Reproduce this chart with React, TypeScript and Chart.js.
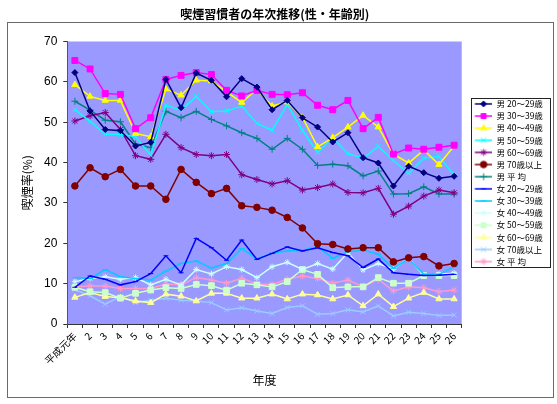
import React, { useEffect, useRef } from 'react';
import { Chart, registerables } from 'chart.js';

Chart.register(...registerables);

const categories = ['平成元年', '2', '3', '4', '5', '6', '7', '8', '9', '10', '11', '12', '13', '14', '15', '16', '17', '18', '19', '20', '21', '22', '23', '24', '25', '26'];

const seriesNames = ['男 20～29歳', '男 30～39歳', '男 40～49歳', '男 50～59歳', '男 60～69歳', '男 70歳以上', '男 平 均', '女 20～29歳', '女 30～39歳', '女 40～49歳', '女 50～59歳', '女 60～69歳', '女 70歳以上', '女 平 均'];

const male20 = [62.3, 52.8, 48.2, 47.9, 44.1, 45.0, 60.6, 53.6, 62.2, 60.4, 56.3, 60.8, 58.7, 53.1, 55.4, 51.1, 48.8, 45.1, 47.4, 41.2, 39.9, 34.2, 39.1, 37.5, 36.1, 36.6];
const male30 = [65.3, 63.2, 57.1, 56.9, 48.4, 51.1, 60.6, 61.6, 62.3, 61.8, 57.9, 56.5, 57.9, 56.9, 56.8, 57.3, 54.2, 53.1, 55.4, 48.4, 51.2, 42.1, 43.6, 43.3, 43.8, 44.3];
const male40 = [59.3, 56.4, 55.4, 55.4, 47.2, 46.4, 58.2, 56.7, 60.4, 60.2, 57.5, 54.9, 58.1, 54.0, 55.0, 51.2, 43.9, 46.2, 48.8, 51.7, 48.8, 42.1, 39.9, 43.1, 39.5, 44.1];
const male50 = [53.1, 50.2, 47.0, 47.0, 46.4, 41.8, 54.2, 53.0, 56.4, 52.6, 52.8, 54.0, 49.7, 48.0, 54.4, 48.0, 42.5, 46.2, 42.2, 41.1, 44.0, 40.5, 37.3, 41.1, 41.5, 36.9];
const male60 = [50.3, 51.6, 52.4, 48.2, 41.7, 40.8, 47.0, 43.7, 42.0, 41.7, 42.0, 37.0, 35.8, 34.7, 35.5, 33.2, 33.8, 34.7, 32.6, 32.5, 33.6, 27.2, 29.2, 31.7, 33.2, 32.5];
const male70 = [34.2, 38.7, 36.5, 38.3, 34.2, 34.2, 30.9, 38.3, 35.1, 32.3, 33.6, 29.3, 28.9, 28.2, 26.4, 23.8, 19.9, 19.7, 18.6, 18.9, 18.9, 15.4, 16.4, 16.7, 14.4, 15.0];
const maleAvg = [55.2, 53.0, 50.5, 50.1, 44.6, 43.7, 52.7, 51.1, 52.7, 50.7, 49.1, 47.4, 46.0, 43.3, 46.0, 43.3, 39.3, 39.6, 39.2, 36.7, 37.9, 32.2, 32.3, 34.0, 32.2, 32.2];
const female20 = [9.1, 11.9, 11.1, 9.7, 10.5, 12.5, 16.9, 12.7, 21.2, 18.9, 15.8, 20.8, 16.0, 17.5, 19.1, 18.1, 18.9, 17.7, 16.9, 14.0, 16.1, 12.7, 12.3, 12.0, 12.1, 12.3];
const female30 = [11.5, 11.3, 13.5, 11.7, 11.3, 10.9, 13.1, 15.0, 15.6, 13.9, 15.0, 18.7, 16.2, 17.5, 18.1, 18.3, 19.1, 16.3, 17.9, 18.3, 17.3, 13.8, 16.1, 12.3, 12.3, 14.2];
const female40 = [10.5, 11.3, 11.7, 11.1, 11.5, 9.7, 11.1, 9.7, 13.5, 12.4, 14.2, 13.5, 11.5, 14.2, 15.3, 13.5, 15.0, 13.6, 17.7, 13.4, 15.0, 13.6, 16.3, 12.0, 12.3, 12.6];
const female50 = [9.1, 8.0, 7.8, 6.4, 7.6, 8.4, 9.0, 8.8, 9.8, 9.5, 8.4, 10.1, 9.7, 9.2, 10.5, 13.5, 12.3, 9.0, 9.2, 9.2, 11.5, 10.1, 10.1, 12.0, 12.0, 12.0];
const female60 = [6.6, 7.8, 6.8, 6.5, 5.7, 5.3, 7.4, 6.9, 5.7, 7.6, 7.6, 6.4, 6.4, 7.4, 6.2, 7.4, 7.2, 6.2, 7.2, 4.5, 7.4, 4.3, 6.4, 7.8, 6.2, 6.2];
const female70 = [8.5, 7.0, 4.9, 6.8, 5.3, 5.9, 6.4, 5.9, 5.7, 5.3, 3.5, 4.0, 3.2, 2.6, 4.1, 4.5, 2.4, 2.6, 3.5, 3.0, 4.5, 2.0, 2.9, 2.6, 2.1, 2.2];
const femaleAvg = [9.2, 9.4, 9.4, 8.8, 8.8, 8.8, 9.9, 9.7, 11.5, 10.9, 10.1, 11.3, 9.9, 9.8, 11.1, 11.9, 11.3, 10.1, 10.9, 9.2, 11.1, 8.2, 9.2, 9.0, 8.0, 8.4];

const seriesValues = [male20, male30, male40, male50, male60, male70, maleAvg, female20, female30, female40, female50, female60, female70, femaleAvg];

const seriesColors = ['#000080', '#FF00FF', '#FFFF00', '#00FFFF', '#800080', '#800000', '#008080', '#0000FF', '#00CCFF', '#CCFFFF', '#CCFFCC', '#FFFF99', '#99CCFF', '#FF99CC'];
const seriesMarkers = ['rectRot', 'rect', 'triangle', 'crossRot', 'star', 'circle', 'cross', 'line', 'line', 'star', 'rect', 'triangle', 'crossRot', 'star'];
const seriesMarkerSizes = [3, 4.2, 3.6, 3.5, 3.5, 3.3, 3.5, 2.5, 3, 3, 4, 3.6, 3.5, 3.5];

const yTicks = [0, 10, 20, 30, 40, 50, 60, 70];

const FONT_JP = "'Noto Sans CJK JP', 'Noto Sans', sans-serif";

function drawMarker(ctx: CanvasRenderingContext2D, style: string, x: number, y: number, r: number, color: string) {
  ctx.fillStyle = color;
  ctx.strokeStyle = color;
  ctx.lineWidth = 1;
  ctx.beginPath();
  const d = Math.SQRT1_2 * r;
  switch (style) {
    case 'circle':
      ctx.arc(x, y, r, 0, Math.PI * 2);
      ctx.fill();
      ctx.stroke();
      break;
    case 'rect':
      ctx.rect(x - d, y - d, 2 * d, 2 * d);
      ctx.fill();
      ctx.stroke();
      break;
    case 'rectRot':
      ctx.moveTo(x - r, y);
      ctx.lineTo(x, y - r);
      ctx.lineTo(x + r, y);
      ctx.lineTo(x, y + r);
      ctx.closePath();
      ctx.fill();
      ctx.stroke();
      break;
    case 'triangle': {
      let a = 0;
      ctx.moveTo(x + Math.sin(a) * r, y - Math.cos(a) * r);
      a += (2 * Math.PI) / 3;
      ctx.lineTo(x + Math.sin(a) * r, y - Math.cos(a) * r);
      a += (2 * Math.PI) / 3;
      ctx.lineTo(x + Math.sin(a) * r, y - Math.cos(a) * r);
      ctx.closePath();
      ctx.fill();
      ctx.stroke();
      break;
    }
    case 'cross':
      ctx.moveTo(x, y - r);
      ctx.lineTo(x, y + r);
      ctx.moveTo(x - r, y);
      ctx.lineTo(x + r, y);
      ctx.stroke();
      break;
    case 'crossRot':
      ctx.moveTo(x - d, y - d);
      ctx.lineTo(x + d, y + d);
      ctx.moveTo(x - d, y + d);
      ctx.lineTo(x + d, y - d);
      ctx.stroke();
      break;
    case 'star':
      ctx.moveTo(x, y - r);
      ctx.lineTo(x, y + r);
      ctx.moveTo(x - r, y);
      ctx.lineTo(x + r, y);
      ctx.moveTo(x - d, y - d);
      ctx.lineTo(x + d, y + d);
      ctx.moveTo(x - d, y + d);
      ctx.lineTo(x + d, y - d);
      ctx.stroke();
      break;
    case 'line':
      ctx.moveTo(x - r, y);
      ctx.lineTo(x + r, y);
      ctx.stroke();
      break;
  }
}

function makeLegendIcon(i: number): HTMLCanvasElement {
  const c = document.createElement('canvas');
  c.width = 27;
  c.height = 10;
  const ctx = c.getContext('2d') as CanvasRenderingContext2D;
  ctx.strokeStyle = seriesColors[i];
  ctx.lineWidth = 1.5;
  ctx.beginPath();
  ctx.moveTo(9.5, 5);
  ctx.lineTo(27, 5);
  ctx.stroke();
  drawMarker(ctx, seriesMarkers[i], 18.25, 5, Math.min(seriesMarkerSizes[i], 3.5), seriesColors[i]);
  return c;
}

const decorPlugin = {
  id: 'decor',
  beforeDraw(chart: any) {
    const { ctx, chartArea: a } = chart;
    ctx.save();
    ctx.fillStyle = '#ffffff';
    ctx.fillRect(0, 0, chart.width, chart.height);
    ctx.fillStyle = '#9999FF';
    ctx.fillRect(a.left, a.top, a.right - a.left, a.bottom - a.top);
    ctx.strokeStyle = '#6a6a6a';
    ctx.lineWidth = 1;
    ctx.strokeRect(7.5, 22.5, 546, 375);
    ctx.restore();
  },
  afterDraw(chart: any) {
    const { ctx, chartArea: a, legend } = chart;
    if (!legend) return;
    const cy = (a.top + a.bottom) / 2;
    ctx.save();
    ctx.strokeStyle = '#222';
    ctx.lineWidth = 1;
    ctx.strokeRect(Math.round(legend.left + 9) + 0.5, Math.round(cy - 84.5) + 0.5, 79, 169);
    ctx.restore();
  },
};

export default function App() {
  const canvasRef = useRef<HTMLCanvasElement | null>(null);

  useEffect(() => {
    document.body.style.margin = '0';
    const canvas = canvasRef.current;
    if (!canvas) return;
    const icons = seriesNames.map((_, i) => makeLegendIcon(i));
    const chart = new Chart(canvas, {
      type: 'line',
      data: {
        labels: categories,
        datasets: seriesNames.map((name, i) => ({
          label: name,
          data: seriesValues[i],
          borderColor: seriesColors[i],
          backgroundColor: seriesColors[i],
          pointBackgroundColor: seriesColors[i],
          pointBorderColor: seriesColors[i],
          pointStyle: seriesMarkers[i] as any,
          pointRadius: seriesMarkerSizes[i],
          pointBorderWidth: 1,
          borderWidth: 1.5,
          tension: 0,
          fill: false,
        })),
      },
      options: {
        responsive: false,
        animation: false,
        layout: { padding: { left: 0, right: 7.3, top: 0, bottom: 0 } },
        plugins: {
          title: {
            display: true,
            text: '喫煙習慣者の年次推移(性・年齢別)',
            color: '#000',
            font: { family: FONT_JP, size: 12, weight: 'bold' },
            padding: { top: 6.8, bottom: 20.3 },
          },
          legend: {
            display: true,
            position: 'right',
            fullSize: false,
            maxWidth: 88,
            labels: {
              usePointStyle: true,
              pointStyleWidth: 27,
              padding: 3.63,
              color: '#000',
              font: { family: FONT_JP, size: 8.5 },
              generateLabels: () =>
                seriesNames.map((name, i) => ({
                  text: name,
                  pointStyle: icons[i] as any,
                  fillStyle: 'transparent',
                  strokeStyle: 'transparent',
                  lineWidth: 0,
                  hidden: false,
                  datasetIndex: i,
                })),
            },
          },
          tooltip: { enabled: false },
        },
        scales: {
          x: {
            type: 'category',
            offset: true,
            grid: { display: true, drawOnChartArea: false, drawTicks: true, tickLength: 4, offset: true, color: '#333' },
            border: { display: true, color: '#333', width: 1 },
            ticks: {
              color: '#000',
              font: { family: FONT_JP, size: 10 },
              minRotation: 45,
              maxRotation: 45,
              autoSkip: false,
              padding: 2,
            },
            title: {
              display: true,
              text: '年度',
              color: '#000',
              font: { family: FONT_JP, size: 12 },
              padding: { top: 0, bottom: 16.8 },
            },
            afterFit: (s: any) => {
              s.height = 80;
            },
          },
          y: {
            type: 'linear',
            min: 0,
            max: 70,
            afterBuildTicks: (s: any) => {
              s.ticks = yTicks.map((v) => ({ value: v }));
            },
            grid: { display: true, drawOnChartArea: false, drawTicks: true, tickLength: 4, color: '#333' },
            border: { display: true, color: '#555', width: 1 },
            ticks: {
              color: '#000',
              font: { family: "'Liberation Sans', Arial, sans-serif", size: 12 },
              padding: 6,
            },
            title: {
              display: true,
              text: '喫煙率(%)',
              color: '#000',
              font: { family: FONT_JP, size: 12 },
              padding: { top: 19.8, bottom: 0 },
            },
            afterFit: (s: any) => {
              s.width = 67.3;
            },
          },
        },
      },
      plugins: [decorPlugin],
    });
    return () => {
      chart.destroy();
    };
  }, []);

  return (
    <div style={{ position: 'absolute', left: 0, top: 0, width: 557, height: 404 }}>
      <canvas ref={canvasRef} width={557} height={404} />
    </div>
  );
}
